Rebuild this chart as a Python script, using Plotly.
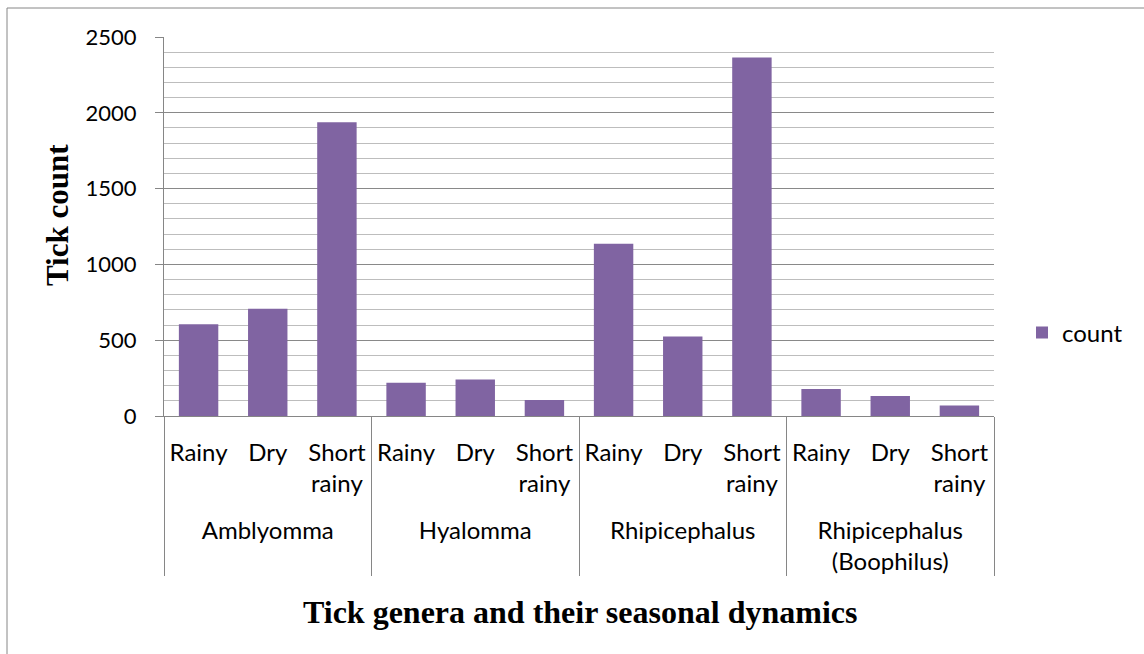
import plotly.graph_objects as go

genera = ["Amblyomma", "Hyalomma", "Rhipicephalus", "Rhipicephalus<br>(Boophilus)"]
seasons = ["Rainy", "Dry", "Short<br>rainy"]
counts = [
    [606, 707, 1938],   # Amblyomma
    [220, 240, 105],    # Hyalomma
    [1136, 525, 2365],  # Rhipicephalus
    [178, 132, 69],     # Rhipicephalus (Boophilus)
]
series_name = "count"
y_ticks = [0, 500, 1000, 1500, 2000, 2500]

# leading blank line gives the extra gap between the two label rows
x_genus = ["<br>" + g for g in genera for _ in seasons]
x_season = [s for _ in genera for s in seasons]
y_vals = [v for row in counts for v in row]

W, H = 1144, 654
ML, MR, MT, MB = 164, 150, 37, 238
PW, PH = W - ML - MR, H - MT - MB

def px_x(p):
    return (p - ML) / PW

def px_y(p):
    return (H - MB - p) / PH

x_font = dict(family="Lato, Open Sans, sans-serif", size=24, color="black")
y_font = dict(family="Lato, Open Sans, sans-serif", size=22, color="black")
title_font = dict(family="Liberation Serif, Times New Roman, serif", size=31, color="black")

fig = go.Figure()
fig.add_trace(go.Bar(
    x=[x_genus, x_season], y=y_vals, name=series_name,
    marker=dict(color="#8064A2", line=dict(width=0)),
    showlegend=True,
))

fig.update_layout(
    width=W, height=H,
    margin=dict(l=ML, r=MR, t=MT, b=MB, autoexpand=False),
    paper_bgcolor="white", plot_bgcolor="white",
    bargap=0.43,
    font=x_font,
    legend=dict(x=px_x(1022), y=px_y(333), xanchor="left", yanchor="middle",
                font=x_font, bgcolor="rgba(0,0,0,0)"),
    xaxis=dict(
        type="multicategory",
        showline=True, linecolor="#868686", linewidth=1,
        showgrid=False, ticks="",
        showdividers=True, dividercolor="#868686", dividerwidth=1,
        tickfont=x_font, ticklabelstandoff=15,
    ),
    yaxis=dict(
        range=[0, 2500], tickvals=y_ticks,
        showline=True, linecolor="#868686", linewidth=1,
        ticks="outside", ticklen=8, tickcolor="#868686",
        showgrid=True, gridcolor="#898989", gridwidth=1,
        minor=dict(dtick=100, showgrid=True, gridcolor="#bdbdbd", gridwidth=1, ticks=""),
        tickfont=y_font, ticklabelstandoff=14,
        zeroline=False,
    ),
    shapes=[
        dict(type="rect", xref="paper", yref="paper",
             x0=px_x(7), x1=1.3, y0=-0.8, y1=px_y(8),
             line=dict(color="#868686", width=1), fillcolor="rgba(0,0,0,0)", layer="below"),
    ],
    annotations=[
        dict(text="<b>Tick genera and their seasonal dynamics</b>", xref="paper", yref="paper",
             x=px_x(580), y=px_y(612), xanchor="center", yanchor="middle",
             showarrow=False, font=dict(title_font, size=32)),
        dict(text="<b>Tick count</b>", xref="paper", yref="paper", textangle=-90,
             x=px_x(58), y=px_y(215), xanchor="center", yanchor="middle",
             showarrow=False, font=title_font),
    ],
)

fig.write_html("out.html", config={"displayModeBar": False},
               post_script="document.body.style.margin='0';")
